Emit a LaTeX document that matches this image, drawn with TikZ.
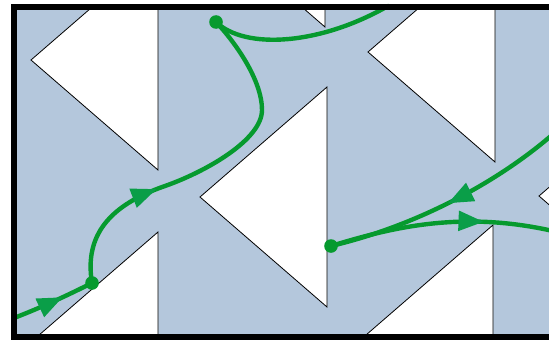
\documentclass[tikz,border=0pt]{standalone}
\usetikzlibrary{arrows.meta}
\usetikzlibrary{decorations.markings}

\begin{document}
\begin{tikzpicture}[x=0.75pt,y=0.75pt,yscale=-1,xscale=1,
  sea/.style={fill={rgb, 255:red, 180; green, 199; blue, 220 }},
  wedge/.style={draw=black, fill=white, line width=0.6pt, line join=miter},
  rim/.style={draw=black, line width=4.5pt, line join=miter},
  orbit/.style={draw={rgb, 255:red, 6; green, 154; blue, 46 }, line width=3.3pt, line cap=round},
  orbitdot/.style={fill={rgb, 255:red, 6; green, 154; blue, 46 }},
  flow/.style={postaction={decorate}, decoration={markings, mark=at position #1 with {\arrow{Triangle[length=19pt,width=14.5pt,color={rgb, 255:red, 10; green, 158; blue, 72 }]}}}}]

\clip (0,0) rectangle (549,339);

% billiard table and wedges
\fill[sea] (14,7) rectangle (560,337);
\begin{scope}
\clip (14,7) rectangle (560,337);
\foreach \ax/\ay in {31/60, 31/342, 200/197, 198/-83, 368/52, 366/335, 539/196}
  \draw[wedge] (\ax,\ay) -- ++(127,-110) -- ++(0,220) -- cycle;
\end{scope}

\coordinate (entry) at (14,318);
\coordinate (kickA) at (92,283);
\coordinate (turnA) at (165,186);
\coordinate (turnB) at (262,110);
\coordinate (kickB) at (216,22);
\coordinate (exitA) at (388,6);
\coordinate (kickC) at (331,246);
\coordinate (exitB) at (552,135);
\coordinate (exitC) at (553,231);

% trajectories
\draw[orbit, flow=0.62] (entry) .. controls (45,306) and (70,294) .. (kickA);
\draw[orbit, flow=0.345] (kickA) .. controls (84,235) and (110,205) .. (turnA) .. controls (205,172) and (262,140) .. (turnB) .. controls (262,80) and (235,42) .. (kickB);
\draw[orbit] (kickB) .. controls (245,50) and (320,45) .. (exitA);
\draw[orbit, flow=0.5] (exitB) .. controls (500,180) and (420,225) .. (kickC);
\draw[orbit, flow=0.69] (kickC) .. controls (390,228) and (460,210) .. (exitC);

\fill[orbitdot] (kickA) circle (5.1pt);
\fill[orbitdot] (kickB) circle (5.1pt);
\fill[orbitdot] (kickC) circle (5.1pt);

\draw[rim] (560,7) -- (14,7) -- (14,337) -- (560,337);

\end{tikzpicture}
\end{document}
